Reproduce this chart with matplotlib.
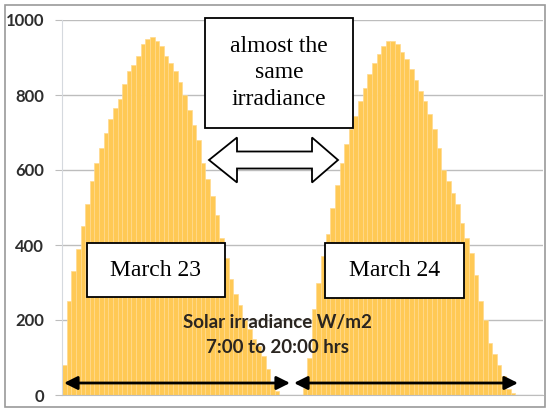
import numpy as np
import matplotlib.pyplot as plt
from matplotlib.patches import Polygon, Rectangle

# Solar irradiance (W/m2), 15-min steps, 7:00 to 20:00, two days
march23 = [80, 250, 330, 390, 450, 510, 570, 620, 660, 700, 735, 765, 790, 830,
           865, 880, 905, 935, 950, 955, 945, 930, 905, 885, 865, 835, 800, 760,
           720, 680, 620, 575, 530, 480, 420, 365, 310, 270, 240, 200, 175, 150,
           130, 105, 70, 30, 10, 0, 0, 0, 0, 0]
march24 = [20, 100, 230, 300, 370, 430, 500, 560, 620, 670, 710, 745, 785, 820,
           855, 885, 910, 930, 945, 945, 935, 915, 895, 870, 840, 810, 785, 750,
           710, 660, 600, 570, 540, 510, 460, 420, 380, 320, 250, 200, 140, 110,
           80, 50, 15, 5, 0, 0, 0, 0, 0, 0]
yticks = [0, 200, 400, 600, 800, 1000]

values = np.array(march23 + march24)
idx = np.arange(len(values))

W, H = 550, 409
fig = plt.figure(figsize=(W / 100, H / 100), dpi=100)
ax = fig.add_axes([62 / W, 14 / H, 481 / W, 375 / H])

ax.bar(idx, values, width=1.0, color='#FFC955', edgecolor='#FFDA8E', linewidth=0.5, zorder=2)

ax.set_xlim(-0.5, len(values) - 0.5)
ax.set_ylim(0, 1000)
ax.set_yticks(yticks)
ax.set_xticks([])
ax.grid(axis='y', color='#BDBDBD', linewidth=1.0, zorder=1)
ax.set_axisbelow(True)
for s in ['top', 'right']:
    ax.spines[s].set_visible(False)
ax.spines['left'].set_color('#D5D9DE')
ax.spines['bottom'].set_color('#BDBDBD')
ax.tick_params(axis='y', length=5, color='#BDBDBD', pad=8, labelsize=12,
               labelcolor='#2E2E2E')
for lab in ax.get_yticklabels():
    lab.set_fontfamily('Lato')
    lab.set_fontweight('bold')


def px(x, y):
    # pixel position in the picture -> axes fraction
    return ((x - 62) / 481, (395 - y) / 375)


serif = 'Liberation Serif'

# boxes with labels
for (x0, y0, x1, y1), txt in [((205, 18, 353, 128), 'almost the\nsame\nirradiance'),
                              ((87, 243, 225, 297), 'March 23'),
                              ((325, 243, 464, 298), 'March 24')]:
    a0 = px(x0, y1)
    a1 = px(x1, y0)
    ax.add_patch(Rectangle(a0, a1[0] - a0[0], a1[1] - a0[1], transform=ax.transAxes,
                           fc='white', ec='black', lw=1.3, zorder=5, clip_on=False))
    cx, cy = px((x0 + x1) / 2, (y0 + y1) / 2)
    ax.text(cx, cy, txt, transform=ax.transAxes, ha='center', va='center',
            fontsize=17, family=serif, linespacing=1.33, zorder=6)

# hollow double arrow
shape = [(209, 160), (237, 137.5), (237, 151.5), (312, 151.5), (312, 137.5),
         (338, 160), (312, 182.5), (312, 168.5), (237, 168.5), (237, 182.5)]
ax.add_patch(Polygon([px(*p) for p in shape], closed=True, transform=ax.transAxes,
                     fc='white', ec='black', lw=1.3, zorder=5))

# black range arrows for each day
for xa, xb in [(64, 290), (294, 518)]:
    ax.annotate('', xy=px(xa, 383), xytext=px(xb, 383), xycoords='axes fraction',
                textcoords='axes fraction',
                arrowprops=dict(arrowstyle='<|-|>', color='black', lw=2,
                                mutation_scale=20, shrinkA=0, shrinkB=0), zorder=6)

tx, ty = px(277, 335)
ax.text(tx, ty, 'Solar irradiance W/m2\n7:00 to 20:00 hrs', transform=ax.transAxes,
        ha='center', va='center', fontsize=13.5, family='Lato', fontweight='bold',
        color='#2A2520', linespacing=1.6, zorder=6)

# outer frame
fig.patches.append(Rectangle((5 / W, 2 / H), 540 / W, 402 / H, transform=fig.transFigure,
                             fill=False, ec='#9A9A9A', lw=1.2))

fig.savefig('out.png', dpi=100)
